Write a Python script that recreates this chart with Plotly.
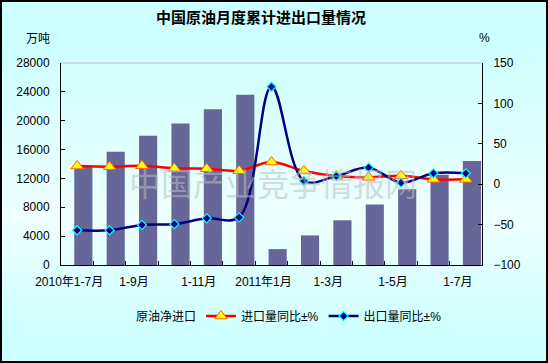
import plotly.graph_objects as go

categories = ["2010年1-7月", "1-8月", "1-9月", "1-10月", "1-11月", "1-12月",
              "2011年1月", "1-2月", "1-3月", "1-4月", "1-5月", "1-6月", "1-7月"]
net_import = [13800, 15700, 17900, 19600, 21600, 23600, 2200, 4100, 6200, 8400, 10500, 12500, 14400]
import_yoy = [22.5, 21.7, 22.9, 19.6, 19.2, 16.7, 27.5, 16.3, 10.1, 8.5, 10.5, 6.0, 6.0]
export_yoy = [-57.0, -57.0, -50.5, -49.3, -42.2, -41.0, 120.6, 4.0, 10.1, 20.5, 1.9, 13.5, 13.5]
tick_labels = ["2010年1-7月", "", "1-9月", "", "1-11月", "", "2011年1月", "", "1-3月", "", "1-5月", "", "1-7月"]

FONT = "Liberation Sans, Arial, Noto Sans CJK SC, sans-serif"
W, H = 548, 363
L, R, T, B = 61, 482, 63, 265
pw, ph = R - L, B - T

def px_x(p):
    return (p - L) / pw

def px_y(p):
    return (B - p) / ph

# background gradient bands (cyan at top/bottom, lighter in the middle)
def bg_level(y):
    if y <= 40:
        return 0.0
    if y <= 220:
        return (y - 40) / 180
    if y <= 340:
        return 1 - (y - 220) / 120
    return 0.0

bg_shapes = []
step = 4
for y0 in range(0, H, step):
    t = bg_level(y0 + step / 2)
    r = int(round(204 + (238 - 204) * t))
    bg_shapes.append(dict(type="rect", xref="paper", yref="paper", layer="below",
                          x0=px_x(0), x1=px_x(W), y0=px_y(min(y0 + step, H)), y1=px_y(y0),
                          line=dict(width=0), fillcolor=f"rgb({r},255,255)"))

fig = go.Figure()
fig.add_trace(go.Bar(x=categories, y=net_import, name="原油净进口",
                     marker=dict(color="#666699", line=dict(width=0)),
                     width=0.56, offset=-0.09, showlegend=False, yaxis="y"))
fig.add_trace(go.Scatter(x=[None], y=[None], mode="lines", name="原油净进口",
                         line=dict(color="rgba(0,0,0,0)", width=0), showlegend=True))
fig.add_trace(go.Scatter(x=categories, y=import_yoy, name="进口量同比±%", yaxis="y2",
                         mode="lines+markers", line=dict(color="#ff0000", width=2.5, shape="spline"),
                         marker=dict(symbol="triangle-up", size=11, color="#ffff00",
                                     line=dict(color="#ff6600", width=1))))
fig.add_trace(go.Scatter(x=categories, y=export_yoy, name="出口量同比±%", yaxis="y2",
                         mode="lines+markers", line=dict(color="#000080", width=2.5, shape="spline"),
                         marker=dict(symbol="diamond", size=7, color="#000080",
                                     line=dict(color="#00ffff", width=1.2))))

fig.update_layout(
    width=W, height=H,
    margin=dict(l=L, r=W - R, t=T, b=H - B, pad=0, autoexpand=False),
    paper_bgcolor="#ccffff", plot_bgcolor="#ffffff",
    font=dict(family=FONT, size=12, color="#000000"),
    title=dict(text="<b>中国原油月度累计进出口量情况</b>", x=261 / W, xanchor="center",
               y=1 - 18 / H, yanchor="middle",
               font=dict(size=15, family="Noto Sans CJK SC, sans-serif", color="#000000")),
    showlegend=True,
    legend=dict(orientation="h", x=0.5, xanchor="center", y=px_y(316), yanchor="middle",
                bgcolor="rgba(0,0,0,0)", font=dict(size=12, family=FONT),
                itemwidth=30, traceorder="normal"),
    xaxis=dict(type="category", tickmode="array", tickvals=categories, ticktext=tick_labels,
               ticks="inside", ticklen=4, tickcolor="#000000", tickson="boundaries",
               showline=True, linecolor="#000000", linewidth=1, showgrid=False,
               range=[-0.5, 12.5], ticklabelshift=-8, ticklabelstandoff=6, tickangle=0,
               automargin=False, tickfont=dict(size=12)),
    yaxis=dict(range=[0, 28000], dtick=4000, tick0=0, tickformat="d", ticks="inside", ticklen=4,
               tickcolor="#000000", showline=True, linecolor="#000000", linewidth=1,
               showgrid=False, zeroline=False, ticklabelstandoff=8, automargin=False,
               tickfont=dict(size=12)),
    yaxis2=dict(range=[-100, 150], dtick=50, tick0=0, overlaying="y", side="right",
                ticks="inside", ticklen=4, tickcolor="#000000", showline=True,
                linecolor="#000000", linewidth=1, showgrid=False, zeroline=False,
                ticklabelstandoff=8, automargin=False, tickfont=dict(size=12)),
    shapes=bg_shapes + [
        dict(type="line", xref="paper", yref="paper", x0=0, x1=1, y0=1, y1=1,
             line=dict(color="#c0c0c0", width=1)),
        dict(type="rect", xref="paper", yref="paper",
             x0=px_x(1), x1=px_x(W - 1), y0=px_y(H - 1), y1=px_y(1),
             line=dict(color="#000000", width=2), fillcolor="rgba(0,0,0,0)", layer="above"),
    ],
    annotations=[
        dict(text="万吨", xref="paper", yref="paper", x=px_x(38), y=px_y(38),
             xanchor="center", yanchor="middle", showarrow=False,
             font=dict(size=12, family="Noto Sans CJK SC, sans-serif")),
        dict(text="%", xref="paper", yref="paper", x=px_x(484), y=px_y(38),
             xanchor="center", yanchor="middle", showarrow=False,
             font=dict(size=12, family=FONT)),
        dict(text="中国产业竞争情报网", xref="paper", yref="paper", x=px_x(273), y=px_y(182),
             xanchor="center", yanchor="middle", showarrow=False,
             font=dict(size=32, family="Noto Sans CJK SC, sans-serif",
                       color="rgba(190,190,190,0.55)")),
    ],
)

fig.write_html("out.html", config={"displayModeBar": False},
               post_script="document.body.style.margin='0';document.body.style.overflow='hidden';")
